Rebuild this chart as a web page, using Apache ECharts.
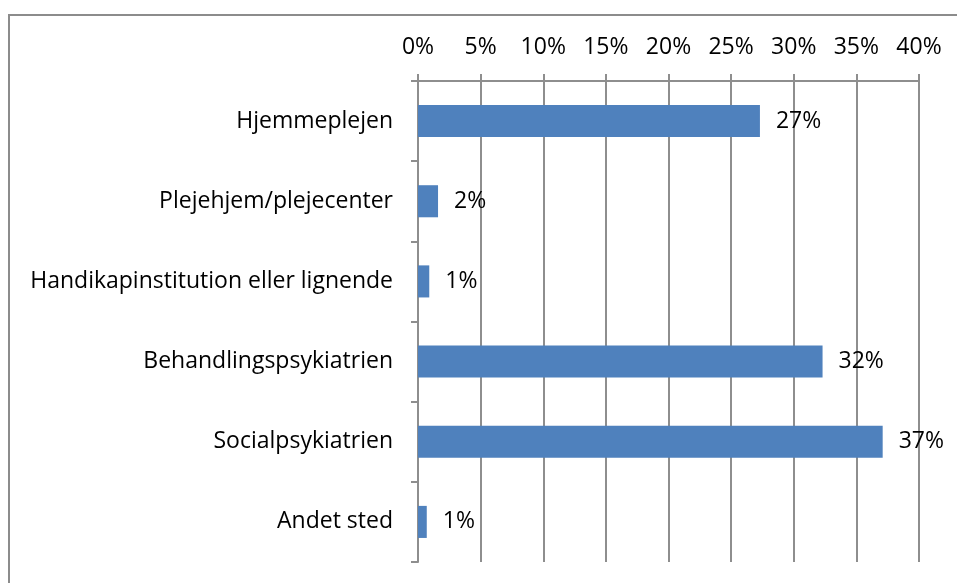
<!DOCTYPE html>
<html><head><meta charset="utf-8">
<script src="https://cdn.jsdelivr.net/npm/echarts@6/dist/echarts.min.js"></script>
<style>html,body{margin:0;padding:0;background:#fff}#c{width:957px;height:583px}</style>
</head><body><div id="c"></div>
<script>
const categories = ["Hjemmeplejen","Plejehjem/plejecenter","Handikapinstitution eller lignende","Behandlingspsykiatrien","Socialpsykiatrien","Andet sted"];
const values = [27.3, 1.6, 0.9, 32.3, 37.1, 0.7];
const tickValues = [0,5,10,15,20,25,30,35,40];

const FONT = "Open Sans";
const FS = 23;
const LC = '#8e8e8e';
const chart = echarts.init(document.getElementById('c'), null, {renderer:'canvas'});
chart.setOption({
  animation:false,
  backgroundColor:'#fff',
  graphic:[{type:'rect', shape:{x:9,y:15,width:1000,height:1000}, style:{fill:'none',stroke:'#8c8c8c',lineWidth:2}, silent:true, z:-1}],
  grid:{left:418,right:38,top:81,bottom:21,containLabel:false},
  xAxis:{type:'value',position:'top',min:tickValues[0],max:tickValues[tickValues.length-1],interval:5,
    axisLine:{show:true,lineStyle:{color:LC,width:2}},
    axisTick:{show:true,inside:false,length:7,lineStyle:{color:LC,width:2}},
    splitLine:{show:true,lineStyle:{color:LC,width:2}},
    axisLabel:{formatter:v=>v+'%',color:'#000',fontFamily:FONT,fontSize:FS,margin:22}},
  yAxis:{type:'category',data:categories,inverse:true,
    axisLine:{show:true,lineStyle:{color:LC,width:2}},
    axisTick:{show:true,inside:false,length:7,lineStyle:{color:LC,width:2}},
    axisLabel:{color:'#000',fontFamily:FONT,fontSize:FS,margin:25}},
  series:[{type:'bar',data:values,barCategoryGap:'60%',
    itemStyle:{color:'#4F81BD'},
    label:{show:true,position:'right',distance:16,formatter:p=>Math.round(p.value)+'%',color:'#000',fontFamily:FONT,fontSize:FS}}]
});
</script></body></html>
